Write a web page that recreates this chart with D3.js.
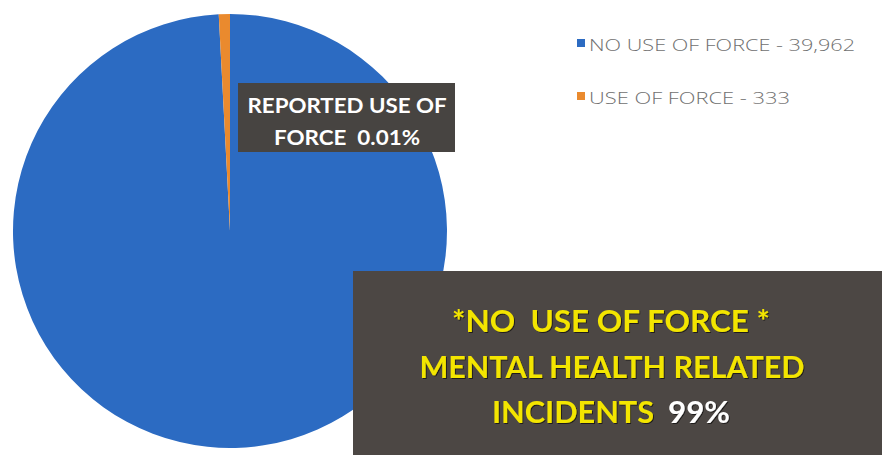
<!DOCTYPE html>
<html>
<head>
<meta charset="utf-8">
<script src="https://cdn.jsdelivr.net/npm/d3@7"></script>
<style>
  html, body { margin: 0; padding: 0; background: #ffffff; }
  svg { display: block; }
  text { white-space: pre; }
</style>
</head>
<body>
<svg id="chart" width="882" height="455"></svg>
<script>
// Incident counts by outcome
const categories = ["NO USE OF FORCE", "USE OF FORCE"];
const counts = [39962, 333];
const colors = ["#2c6bc2", "#ea8a2e"];
const legendLabels = ["NO USE OF FORCE - 39,962", "USE OF FORCE - 333"];

// Callout texts
const sliceLabelLines = ["REPORTED USE OF", "FORCE  0.01%"];
const noteLines = ["*NO  USE OF FORCE *", "MENTAL HEALTH RELATED", "INCIDENTS"];
const notePercent = "99%";

const svg = d3.select("#chart");
const W = 882, H = 455;

const defs = svg.append("defs");
const shadow = defs.append("filter").attr("id", "txtShadow")
  .attr("x", "-5%").attr("y", "-20%").attr("width", "110%").attr("height", "140%");
shadow.append("feDropShadow").attr("dx", 1).attr("dy", 1).attr("stdDeviation", 0.6)
  .attr("flood-color", "#000").attr("flood-opacity", 0.6);

// Pie
const cx = 230, cy = 231, R = 217;
const pie = d3.pie().sort(null).value(d => d)(counts);
const arc = d3.arc().innerRadius(0).outerRadius(R);

svg.append("g").attr("transform", `translate(${cx},${cy})`)
  .selectAll("path").data(pie).enter().append("path")
  .attr("d", arc)
  .attr("fill", (d, i) => colors[i]);

// Slice callout
const lab = svg.append("g");
lab.append("rect").attr("x", 238).attr("y", 83).attr("width", 217).attr("height", 69)
  .attr("fill", "#474441");
const labCenter = 347;
const labBase = [113, 145];
const labWidths = [199, 146];
sliceLabelLines.forEach((t, i) => {
  lab.append("text")
    .attr("x", labCenter).attr("y", labBase[i])
    .attr("text-anchor", "middle")
    .attr("font-family", "Lato, 'Open Sans', sans-serif")
    .attr("font-weight", 700).attr("font-size", 21)
    .attr("fill", "#ffffff")
    .attr("textLength", labWidths[i]).attr("lengthAdjust", "spacingAndGlyphs")
    .text(t);
});

// Legend
const legend = svg.append("g");
const legY = [51, 104];
const legWidths = [266, 201];
categories.forEach((c, i) => {
  legend.append("rect").attr("x", 577).attr("y", legY[i] - 12).attr("width", 8).attr("height", 8)
    .attr("fill", colors[i]);
  legend.append("text")
    .attr("x", 589).attr("y", legY[i])
    .attr("font-family", "'Open Sans', sans-serif")
    .attr("font-weight", 300).attr("font-size", 17)
    .attr("fill", "#707070")
    .attr("textLength", legWidths[i]).attr("lengthAdjust", "spacingAndGlyphs")
    .text(legendLabels[i]);
});

// Note box
const note = svg.append("g");
note.append("rect").attr("x", 353).attr("y", 271).attr("width", W - 353).attr("height", H - 271)
  .attr("fill", "#4c4744");
const noteBase = [332, 378, 423];
const noteFont = { family: "Lato, 'Open Sans', sans-serif", size: 30 };
note.append("text").attr("x", 611).attr("y", noteBase[0]).attr("text-anchor", "middle")
  .attr("font-family", noteFont.family).attr("font-weight", 700).attr("font-size", noteFont.size)
  .attr("fill", "#f3e500").attr("filter", "url(#txtShadow)")
  .attr("textLength", 318).attr("lengthAdjust", "spacingAndGlyphs")
  .text(noteLines[0]);
note.append("text").attr("x", 612).attr("y", noteBase[1]).attr("text-anchor", "middle")
  .attr("font-family", noteFont.family).attr("font-weight", 700).attr("font-size", noteFont.size)
  .attr("fill", "#f3e500").attr("filter", "url(#txtShadow)")
  .attr("textLength", 385).attr("lengthAdjust", "spacingAndGlyphs")
  .text(noteLines[1]);
const l3 = note.append("text").attr("y", noteBase[2])
  .attr("font-family", noteFont.family).attr("font-weight", 700).attr("font-size", noteFont.size)
  .attr("filter", "url(#txtShadow)");
l3.append("tspan").attr("x", 492).attr("fill", "#f3e500")
  .attr("textLength", 162).attr("lengthAdjust", "spacingAndGlyphs").text(noteLines[2]);
l3.append("tspan").attr("x", 668).attr("fill", "#ffffff")
  .attr("textLength", 62).attr("lengthAdjust", "spacingAndGlyphs").text(notePercent);
</script>
</body>
</html>
